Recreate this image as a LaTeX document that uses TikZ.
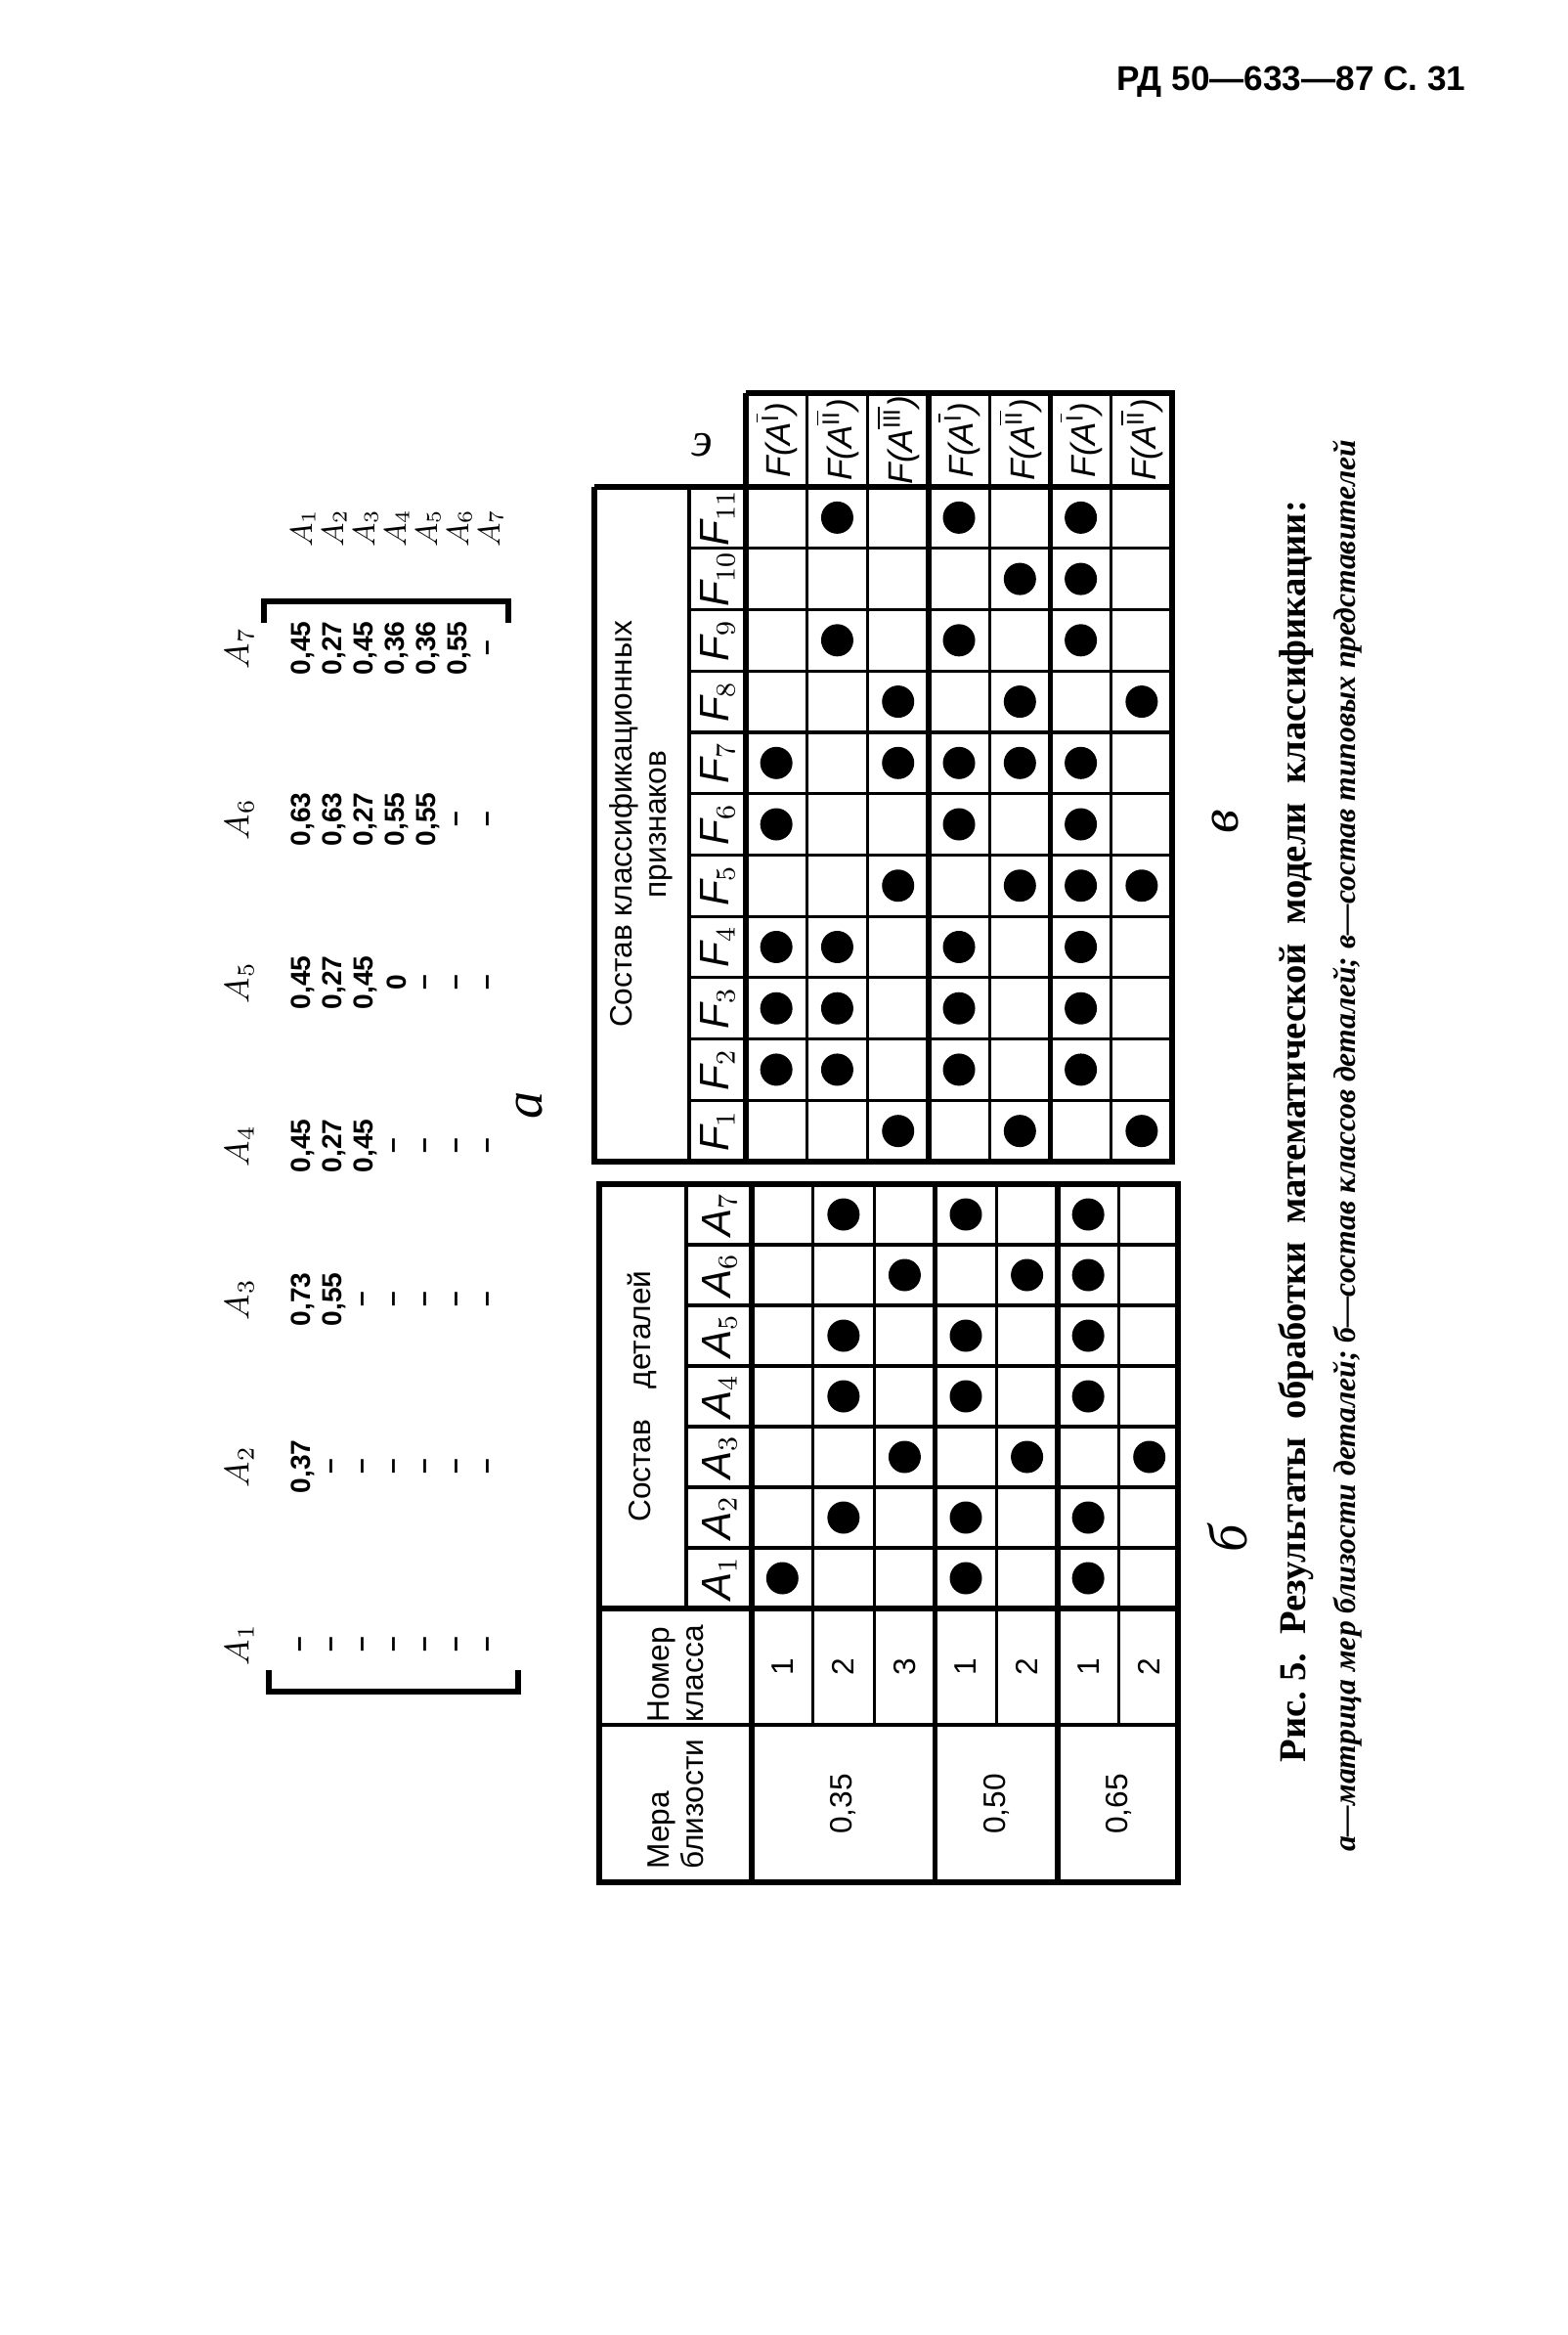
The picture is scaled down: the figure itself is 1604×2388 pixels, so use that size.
\documentclass[tikz,border=0pt]{standalone}
\usepackage{fontspec}
\setmainfont{Liberation Serif}
\setsansfont{Liberation Sans}
\begin{document}
\begin{tikzpicture}[x=0.1mm, y=-0.1mm,
    thickline/.style={line width=1.5pt},
    thinline/.style={line width=0.9pt},
    dot/.style={circle, fill=black, inner sep=0pt, minimum size=3.3mm},
    celltext/.style={rotate=90, font=\sffamily\fontsize{9}{10}\selectfont},
    matval/.style={rotate=90, font=\sffamily\bfseries\fontsize{8}{9}\selectfont},
    hand/.style={rotate=90, font=\itshape\fontsize{16}{16}\selectfont}]
    \useasboundingbox (0,0) rectangle (1604,2388);

    % page header
    \node[font=\sffamily\bfseries\fontsize{10}{12}\selectfont] (pagehead) at (1321,84) {РД 50---633---87 С. 31};

    % matrix a: brackets
    \draw[thickline] (270,637) -- (270,615) -- (520,615) -- (520,637);
    \draw[thickline] (275,1708) -- (275,1730) -- (530,1730) -- (530,1708);
    % matrix a: column labels and row labels
    \foreach \k/\yy in {1/1682,2/1500,3/1329,4/1172,5/1005,6/838,7/663} {
        \node[rotate=90, font=\fontsize{10}{10}\selectfont] (mcol\k) at (245,\yy) {$A_{\k}$};
        \node[rotate=90, font=\fontsize{9}{9}\selectfont] (mrow\k) at ({310+32*(\k-1)},540) {$A_{\k}$};
    }
    % matrix a: values, column by column
    \foreach \i/\v in {1/--,2/--,3/--,4/--,5/--,6/--,7/--}
        \node[matval] (va1\i) at ({310+32*(\i-1)},1682) {\v};
    \foreach \i/\v in {1/{0,37},2/--,3/--,4/--,5/--,6/--,7/--}
        \node[matval] (va2\i) at ({310+32*(\i-1)},1500) {\v};
    \foreach \i/\v in {1/{0,73},2/{0,55},3/--,4/--,5/--,6/--,7/--}
        \node[matval] (va3\i) at ({310+32*(\i-1)},1329) {\v};
    \foreach \i/\v in {1/{0,45},2/{0,27},3/{0,45},4/--,5/--,6/--,7/--}
        \node[matval] (va4\i) at ({310+32*(\i-1)},1172) {\v};
    \foreach \i/\v in {1/{0,45},2/{0,27},3/{0,45},4/0,5/--,6/--,7/--}
        \node[matval] (va5\i) at ({310+32*(\i-1)},1005) {\v};
    \foreach \i/\v in {1/{0,63},2/{0,63},3/{0,27},4/{0,55},5/{0,55},6/--,7/--}
        \node[matval] (va6\i) at ({310+32*(\i-1)},838) {\v};
    \foreach \i/\v in {1/{0,45},2/{0,27},3/{0,45},4/{0,36},5/{0,36},6/{0,55},7/--}
        \node[matval] (va7\i) at ({310+32*(\i-1)},663) {\v};
    \node[hand] (laba) at (542,1130) {а};

    % table b: grid
    \foreach \j in {1,...,6}
        \draw[thinline] ({769+62.57*\j},1211) -- ({769+62.57*\j},1764);
    \foreach \k in {1,...,6}
        \draw[thinline] (702,{1211+62*\k}) -- (1205,{1211+62*\k});
    \draw[thinline] (702,1211) -- (702,1645);
    \draw[thinline] (613,1764) -- (1205,1764);
    \draw[thickline] (769,1211) -- (769,1925);
    \draw[thickline] ({769+62.57*3},1211) -- ({769+62.57*3},1925);
    \draw[thickline] ({769+62.57*5},1211) -- ({769+62.57*5},1925);
    \draw[thickline] (613,1645) -- (1205,1645);
    \draw[thickline] (613,1211) rectangle (1205,1925);
    % table b: texts
    \node[celltext] (sostdet) at (657,1428) {Состав\quad деталей};
    \node[celltext, align=left] (nomer) at (691,1712) {Номер\\класса};
    \node[celltext, align=left] (mera) at (691,1845) {Мера\\близости};
    \foreach \k in {1,...,7}
        \node[rotate=90, font=\sffamily\itshape\fontsize{12}{12}\selectfont] (ahead\k) at (736,{1211+62*(7-\k+0.5)}) {A$_{\k}$};
    \foreach \j/\n in {1/1,2/2,3/3,4/1,5/2,6/1,7/2}
        \node[celltext] (cls\j) at ({769+62.57*(\j-0.5)},1705) {\n};
    \node[celltext] (m035) at ({769+62.57*1.5},1845) {0,35};
    \node[celltext] (m050) at ({769+62.57*4},1845) {0,50};
    \node[celltext] (m065) at ({769+62.57*6},1845) {0,65};
    \foreach \j/\ks in {1/{1},2/{2,4,5,7},3/{3,6},4/{1,2,4,5,7},5/{3,6},6/{1,2,4,5,6,7},7/{3}}
        \foreach \k in \ks
            \node[dot] (bd\j\k) at ({769+62.57*(\j-0.5)},{1211+62*(7-\k+0.5)}) {};
    \node[hand] (labb) at (1256,1573) {б};

    % table v: grid
    \foreach \j in {1,...,6}
        \draw[thinline] ({763+62.29*\j},402) -- ({763+62.29*\j},1188);
    \foreach \k in {1,...,10}
        \draw[thinline] (705,{498+62.73*\k}) -- (1199,{498+62.73*\k});
    \draw[thinline] (705,498) -- (705,1188);
    \draw[thickline] (763,402) -- (763,1188);
    \draw[thickline] ({763+62.29*3},402) -- ({763+62.29*3},1188);
    \draw[thickline] ({763+62.29*5},402) -- ({763+62.29*5},1188);
    \draw[thickline] (608,498) -- (1199,498);
    \draw[thickline] (608,498) -- (608,1188) -- (1199,1188) -- (1199,402) -- (763,402);
    % table v: texts
    \node[celltext, align=center] (sostpr) at (656,843) {Состав классификационных\\признаков};
    \foreach \k in {1,...,11}
        \node[rotate=90, font=\sffamily\itshape\fontsize{12}{12}\selectfont] (fhead\k) at (734,{498+62.73*(11-\k+0.5)}) {F$_{\k}$};
    \foreach \j/\r in {1/I,2/II,3/III,4/I,5/II,6/I,7/II}
        \node[rotate=90, font=\sffamily\itshape\fontsize{10}{10}\selectfont] (fa\j) at ({763+62.29*(\j-0.5)},450) {F(A$^{\overline{\textup{\scriptsize\r}}}$)};
    \foreach \j/\ks in {1/{2,3,4,6,7},2/{2,3,4,9,11},3/{1,5,7,8},4/{2,3,4,6,7,9,11},5/{1,5,7,8,10},6/{2,3,4,5,6,7,9,10,11},7/{1,5,8}}
        \foreach \k in \ks
            \node[dot] (vd\j-\k) at ({763+62.29*(\j-0.5)},{498+62.73*(11-\k+0.5)}) {};
    \node[hand] (labv) at (1253,840) {в};
    \node[font=\itshape\fontsize{14}{14}\selectfont] (labg) at (718,455) {э};

    % caption
    \node[rotate=90, font=\bfseries\fontsize{11}{12}\selectfont] (cap1) at (1326,1157) {Рис.\ 5.\ \ Результаты\ \ обработки\ \ математической\ \ модели\ \ классификации:};
    \node[rotate=90, font=\bfseries\itshape\fontsize{9}{10}\selectfont] (cap2) at (1378,1172) {а---матрица мер близости деталей; б---состав классов деталей; в---состав типовых представителей};
\end{tikzpicture}
\end{document}
